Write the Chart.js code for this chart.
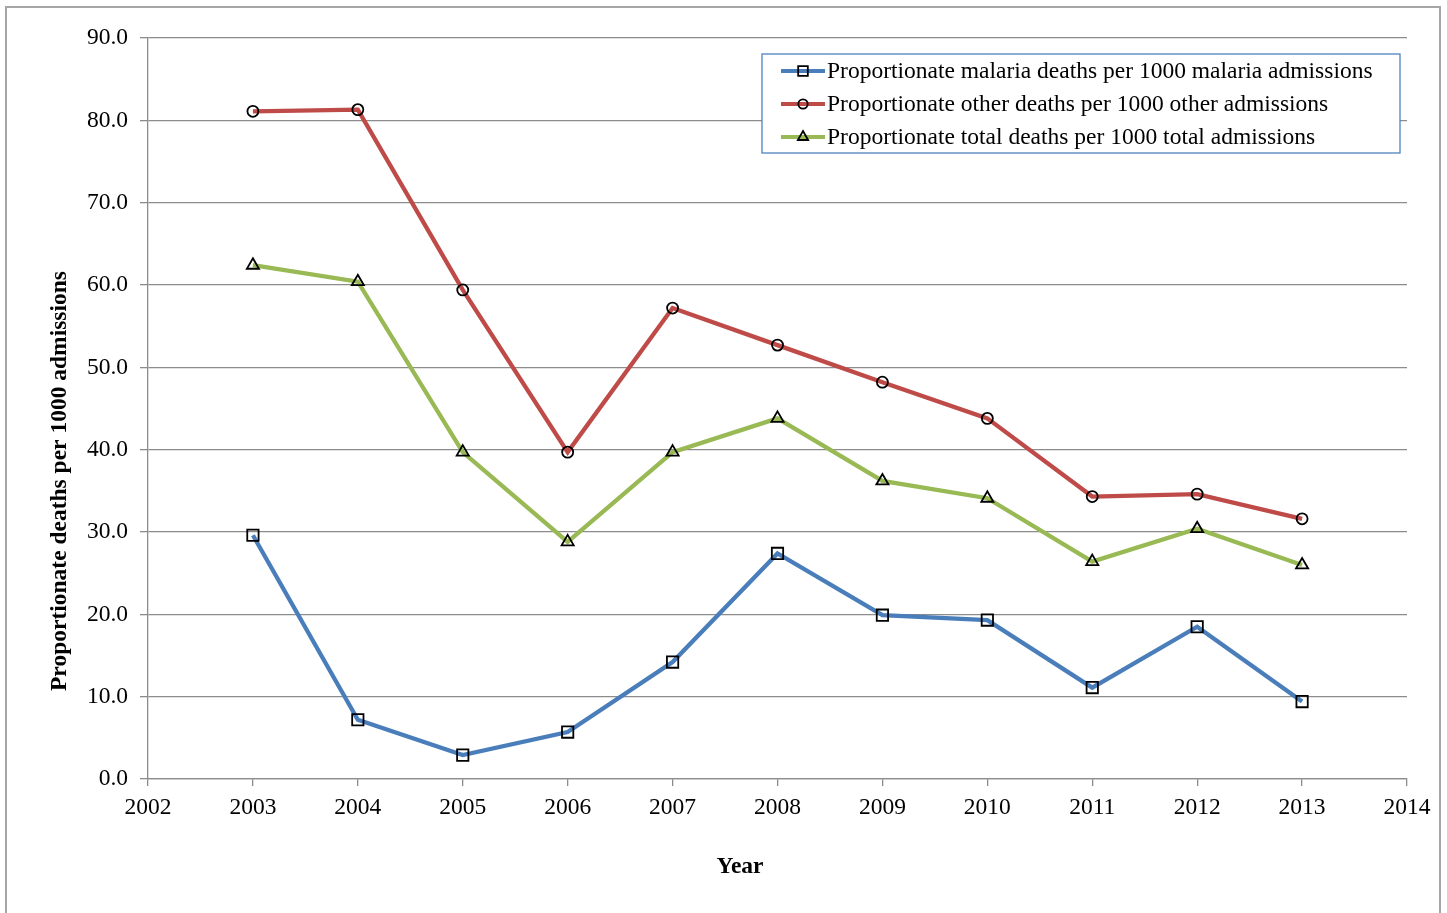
<!DOCTYPE html>
<html>
<head>
<meta charset="utf-8">
<script src="https://cdn.jsdelivr.net/npm/chart.js@4/dist/chart.umd.min.js"></script>
<style>
  html, body { margin: 0; padding: 0; background: #fff; }
  #wrap { position: relative; width: 1447px; height: 913px; }
  #frame { position: absolute; left: 5px; top: 6px; width: 1436px; height: 920px; border: 2px solid #a6a6a6; box-sizing: border-box; pointer-events: none; }
  canvas { position: absolute; left: 0; top: 0; }
</style>
</head>
<body>
<div id="wrap">
  <canvas id="c" width="1447" height="913"></canvas>
  <div id="frame"></div>
</div>
<script>
const years = [2003, 2004, 2005, 2006, 2007, 2008, 2009, 2010, 2011, 2012, 2013];
const malariaDeaths = [29.6, 7.2, 2.9, 5.7, 14.2, 27.4, 19.9, 19.3, 11.1, 18.5, 9.4];
const otherDeaths   = [81.1, 81.3, 59.4, 39.7, 57.2, 52.7, 48.2, 43.8, 34.3, 34.6, 31.6];
const totalDeaths   = [62.4, 60.4, 39.7, 28.8, 39.7, 43.8, 36.2, 34.1, 26.4, 30.4, 26.0];
const seriesNames = [
  'Proportionate malaria deaths per 1000 malaria admissions',
  'Proportionate other deaths per 1000 other admissions',
  'Proportionate total deaths per 1000 total admissions'
];
const yTitle = 'Proportionate deaths per 1000 admissions';
const xTitle = 'Year';

const FONT = '"Liberation Serif", "Times New Roman", serif';
const FS = 23.5;
const toXY = arr => arr.map((v, i) => ({ x: years[i], y: v }));

const customPlugin = {
  id: 'custom',
  afterDraw(chart) {
    const ctx = chart.ctx;
    ctx.save();
    // axis titles
    ctx.fillStyle = '#000';
    ctx.font = 'bold ' + FS + 'px ' + FONT;
    ctx.textAlign = 'center';
    ctx.textBaseline = 'middle';
    ctx.fillText(xTitle, 740, 867);
    ctx.save();
    ctx.translate(60, 481);
    ctx.rotate(-Math.PI / 2);
    ctx.fillText(yTitle, 0, 0);
    ctx.restore();
    // legend box
    const bx = 762, by = 54, bw = 638, bh = 99;
    ctx.fillStyle = '#fff';
    ctx.fillRect(bx, by, bw, bh);
    ctx.strokeStyle = '#4f81bd';
    ctx.lineWidth = 1.3;
    ctx.strokeRect(bx, by, bw, bh);
    chart.data.datasets.forEach((ds, i) => {
      const cy = 71 + i * 33;
      ctx.strokeStyle = ds.borderColor;
      ctx.lineWidth = 4;
      ctx.beginPath();
      ctx.moveTo(781, cy);
      ctx.lineTo(825, cy);
      ctx.stroke();
      ctx.strokeStyle = '#000';
      ctx.fillStyle = 'rgba(0,0,0,0)';
      ctx.lineWidth = 1.8;
      Chart.helpers.drawPoint(ctx, {
        pointStyle: ds.pointStyle,
        radius: ds.pointRadius * 0.85,
        rotation: 0,
        borderWidth: 1.8
      }, 803, cy);
      ctx.fillStyle = '#000';
      ctx.font = FS + 'px ' + FONT;
      ctx.textAlign = 'left';
      ctx.textBaseline = 'middle';
      ctx.fillText(ds.label, 827, cy + 1);
    });
    ctx.restore();
  }
};

new Chart(document.getElementById('c'), {
  type: 'line',
  data: {
    datasets: [
      { label: seriesNames[0], data: toXY(malariaDeaths), borderColor: '#4a7ebb', pointStyle: 'rect', pointRadius: 8 },
      { label: seriesNames[1], data: toXY(otherDeaths), borderColor: '#be4b48', pointStyle: 'circle', pointRadius: 5.5 },
      { label: seriesNames[2], data: toXY(totalDeaths), borderColor: '#98b954', pointStyle: 'triangle', pointRadius: 7 }
    ].map(d => Object.assign(d, {
      borderWidth: 4.3,
      pointBorderColor: '#000',
      pointBackgroundColor: 'rgba(0,0,0,0)',
      pointBorderWidth: 1.8,
      tension: 0,
      fill: false
    }))
  },
  options: {
    responsive: false,
    animation: false,
    devicePixelRatio: 1,
    layout: { padding: { left: 0, top: 38, right: 40, bottom: 0 } },
    plugins: { legend: { display: false }, tooltip: { enabled: false } },
    scales: {
      x: {
        type: 'linear',
        min: 2002, max: 2014,
        afterFit(s) { s.height = 134; },
        ticks: { stepSize: 1, color: '#000', font: { family: FONT, size: FS }, padding: 8, maxRotation: 0, callback: v => String(v) },
        grid: { drawOnChartArea: false, drawTicks: true, tickLength: 7, color: '#8c8c8c', lineWidth: 1.3 },
        border: { display: true, color: '#8c8c8c', width: 1.3 }
      },
      y: {
        min: 0, max: 90,
        afterFit(s) { s.width = 148; },
        ticks: { stepSize: 10, color: '#000', font: { family: FONT, size: FS }, padding: 12, callback: v => v.toFixed(1) },
        grid: { color: '#8c8c8c', lineWidth: 1.3, tickLength: 8 },
        border: { display: true, color: '#8c8c8c', width: 1.3 }
      }
    }
  },
  plugins: [customPlugin]
});
</script>
</body>
</html>
